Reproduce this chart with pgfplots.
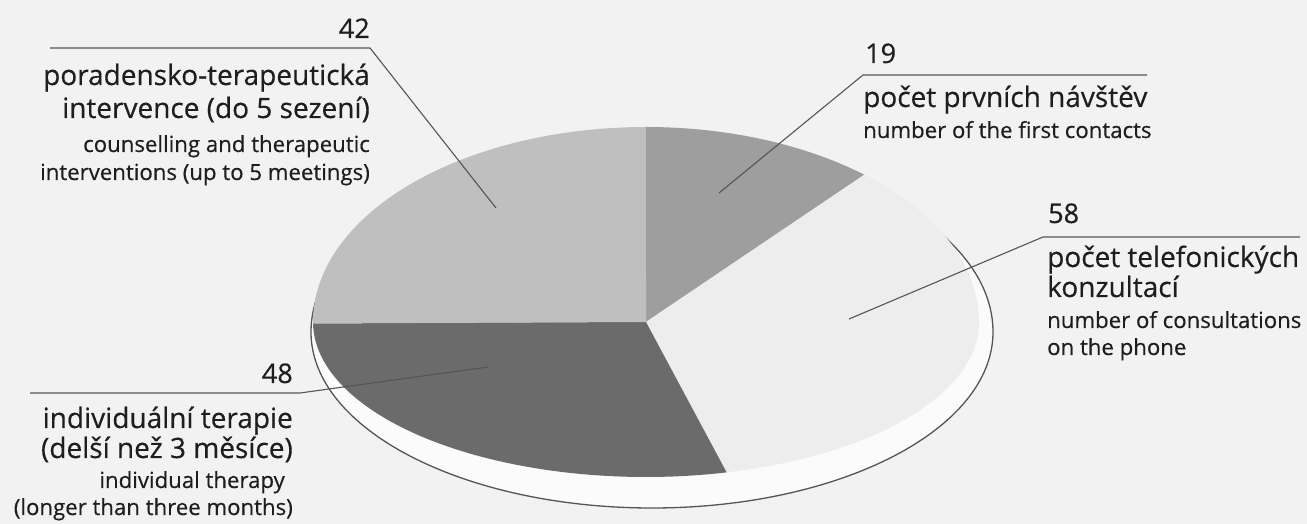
\documentclass[border=0pt]{standalone}
\usepackage{pgfplots}
\usepackage{pgfplotstable}
\pgfplotsset{compat=1.18}
\usepackage{fontspec}
\setmainfont{Open Sans}[FakeBold=0.4]

\definecolor{bg}{HTML}{F2F2F2}
\definecolor{rimfill}{HTML}{FBFBFB}
\definecolor{cA}{HTML}{9E9E9E}
\definecolor{cB}{HTML}{EDEDED}
\definecolor{cC}{HTML}{6B6B6B}
\definecolor{cD}{HTML}{BFBFBF}
\definecolor{leader}{HTML}{555555}
\definecolor{txt}{HTML}{1E1E1E}

\pgfplotstableread{
value
19
58
48
42
}\piedata

\newcommand\pieslice[7]{%
  \fill[#1] (axis cs:#4,#5) -- ++(#2:#6pt and #7pt)
    arc[start angle=#2,end angle=#3,x radius=#6pt,y radius=#7pt] -- cycle;}

\newcommand\lblbig[1]{\fontsize{28}{32}\selectfont #1}
\newcommand\lblsmall[1]{\fontsize{22.2}{26}\selectfont #1}
\newcommand\lblnum[1]{\fontsize{27}{30}\selectfont #1}

\begin{document}
\begin{tikzpicture}
\pgfplotstablegetelem{0}{value}\of\piedata\edef\va{\pgfplotsretval}
\pgfplotstablegetelem{1}{value}\of\piedata\edef\vb{\pgfplotsretval}
\pgfplotstablegetelem{2}{value}\of\piedata\edef\vc{\pgfplotsretval}
\pgfplotstablegetelem{3}{value}\of\piedata\edef\vd{\pgfplotsretval}
\pgfmathsetmacro\tot{\va+\vb+\vc+\vd}
\pgfmathsetmacro\tA{90}
\pgfmathsetmacro\tB{\tA-360*(\va/\tot)}
\pgfmathsetmacro\tC{\tB-360*(\vb/\tot)}
\pgfmathsetmacro\tD{\tC-360*(\vc/\tot)}
\pgfmathsetmacro\tE{\tD-360*(\vd/\tot)}
\begin{axis}[width=1307pt,height=524pt,scale only axis,
  xmin=0,xmax=1307,ymin=0,ymax=524,hide axis,clip=false]
% background
\fill[bg] (axis cs:0,0) rectangle (axis cs:1307,524);
% rim (side of the disc)
\begin{scope}
\clip (axis cs:0,191.5) rectangle (axis cs:1307,524);
\fill[rimfill,draw=leader,line width=1.3pt] (axis cs:652,192) ++(0:341pt and 185pt) arc[start angle=0,end angle=180,x radius=341pt,y radius=185pt];
\end{scope}
\begin{scope}
\clip (axis cs:0,0) rectangle (axis cs:1307,192.5);
\fill[rimfill,draw=leader,line width=1.3pt] (axis cs:652,192) ++(180:341pt and 176pt) arc[start angle=180,end angle=360,x radius=341pt,y radius=176pt];
\end{scope}
% top face, upper half
\begin{scope}
\clip (axis cs:0,201.5) rectangle (axis cs:1307,524);
\pieslice{cA}{\tA}{\tB}{646}{202}{333}{195}
\pieslice{cB}{\tB}{\tC}{646}{202}{333}{195}
\pieslice{cC}{\tC}{\tD}{646}{202}{333}{195}
\pieslice{cD}{\tD}{\tE}{646}{202}{333}{195}
\end{scope}
% top face, lower half
\begin{scope}
\clip (axis cs:0,0) rectangle (axis cs:1307,202.5);
\pieslice{cA}{\tA}{\tB}{646}{202}{333}{155}
\pieslice{cB}{\tB}{\tC}{646}{202}{333}{155}
\pieslice{cC}{\tC}{\tD}{646}{202}{333}{155}
\pieslice{cD}{\tD}{\tE}{646}{202}{333}{155}
\end{scope}
% leader lines
\addplot[leader,line width=1.1pt] coordinates {(50,476) (370,476) (496,316)};
\addplot[leader,line width=1.1pt] coordinates {(1147,449) (863,449) (719,331)};
\addplot[leader,line width=1.1pt] coordinates {(1300,287) (1043,287) (849,205)};
\addplot[leader,line width=1.1pt] coordinates {(30,131) (300,131) (488,157)};
% labels: 42
\node[txt,anchor=base east,inner sep=0pt] at (axis cs:370,486) {\lblnum{42}};
\node[txt,anchor=base east,inner sep=0pt] at (axis cs:370,439) {\lblbig{poradensko-terapeutická}};
\node[txt,anchor=base east,inner sep=0pt] at (axis cs:370,406) {\lblbig{intervence (do 5 sezení)}};
\node[txt,anchor=base east,inner sep=0pt] at (axis cs:370,372) {\lblsmall{counselling and therapeutic}};
\node[txt,anchor=base east,inner sep=0pt] at (axis cs:370,344) {\lblsmall{interventions (up to 5 meetings)}};
% labels: 19
\node[txt,anchor=base west,inner sep=0pt] at (axis cs:865,461) {\lblnum{19}};
\node[txt,anchor=base west,inner sep=0pt] at (axis cs:863,417) {\lblbig{počet prvních návštěv}};
\node[txt,anchor=base west,inner sep=0pt] at (axis cs:863,386) {\lblsmall{number of the first contacts}};
% labels: 58
\node[txt,anchor=base west,inner sep=0pt] at (axis cs:1048,301) {\lblnum{58}};
\node[txt,anchor=base west,inner sep=0pt] at (axis cs:1047,257) {\lblbig{počet telefonických}};
\node[txt,anchor=base west,inner sep=0pt] at (axis cs:1047,227) {\lblbig{konzultací}};
\node[txt,anchor=base west,inner sep=0pt] at (axis cs:1047,196) {\lblsmall{number of consultations}};
\node[txt,anchor=base west,inner sep=0pt] at (axis cs:1047,169) {\lblsmall{on the phone}};
% labels: 48
\node[txt,anchor=base east,inner sep=0pt] at (axis cs:293,141) {\lblnum{48}};
\node[txt,anchor=base east,inner sep=0pt] at (axis cs:293,96) {\lblbig{individuální terapie}};
\node[txt,anchor=base east,inner sep=0pt] at (axis cs:293,66) {\lblbig{(delší než 3 měsíce)}};
\node[txt,anchor=base east,inner sep=0pt] at (axis cs:285,36) {\lblsmall{individual therapy}};
\node[txt,anchor=base east,inner sep=0pt] at (axis cs:293,9) {\lblsmall{(longer than three months)}};
\end{axis}
\end{tikzpicture}
\end{document}
